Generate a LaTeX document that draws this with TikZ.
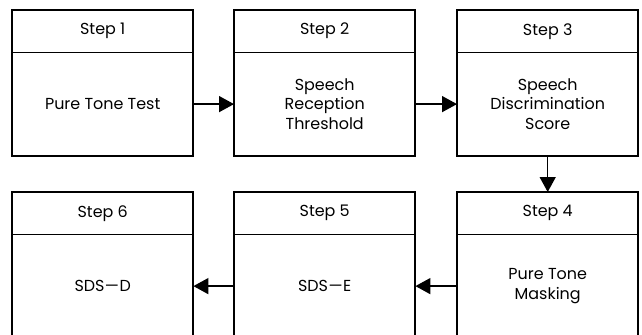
\documentclass[tikz,border=0pt]{standalone}
\usepackage{fontspec}
\setmainfont{Poppins}
\usetikzlibrary{arrows.meta,positioning}

\tikzset{
  x=1bp, y=-1bp,
  steptext/.style={inner sep=0pt, align=center, font=\fontsize{16}{20}\selectfont},
  stephead/.style={steptext, minimum width=181bp, minimum height=42bp, anchor=north west},
  stepbody/.style={steptext, minimum width=181bp, minimum height=103bp, anchor=north},
  frame/.style={line width=2bp},
  divider/.style={line width=1.2bp},
  flow/.style={line width=1.5bp, -{Triangle[length=15bp,width=16bp]}},
}
% outer frame and header divider of one step box
\newcommand{\stepframe}[2]{%
  \draw[frame] (#1.north west) rectangle (#2.south east);
  \draw[divider] (#1.south west) -- (#1.south east);}
% long dash used in the SDS labels
\newcommand{\sdsdash}{\kern0.5bp\textemdash\kern0.5bp}

\begin{document}
\begin{tikzpicture}
\useasboundingbox (0,0) rectangle (642,334);

% top row
\node[stephead] (h1) at (12,10)  {Step 1};
\node[stephead] (h2) at (234,10) {Step 2};
\node[stephead] (h3) at (457,10) {Step 3};
\node[stepbody] (b1) at (h1.south) {Pure Tone Test};
\node[stepbody] (b2) at (h2.south) {Speech\\Reception\\Threshold};
\node[stepbody] (b3) at (h3.south) {Speech\\Discrimination\\Score};

% bottom row
\node[stephead] (h6) at (12,192)  {Step 6};
\node[stephead] (h5) at (234,192) {Step 5};
\node[stephead] (h4) at (457,192) {Step 4};
\node[stepbody] (b6) at (h6.south) {SDS\sdsdash D};
\node[stepbody] (b5) at (h5.south) {SDS\sdsdash E};
\node[stepbody] (b4) at (h4.south) {Pure Tone\\Masking};

\stepframe{h1}{b1}
\stepframe{h2}{b2}
\stepframe{h3}{b3}
\stepframe{h4}{b4}
\stepframe{h5}{b5}
\stepframe{h6}{b6}

% connectors
\draw[flow] (b1.east) -- (b2.west);
\draw[flow] (b2.east) -- (b3.west);
\draw[flow] (b3.south) -- (h4.north);
\draw[flow] (b4.west) -- (b5.east);
\draw[flow] (b5.west) -- (b6.east);
\end{tikzpicture}
\end{document}
